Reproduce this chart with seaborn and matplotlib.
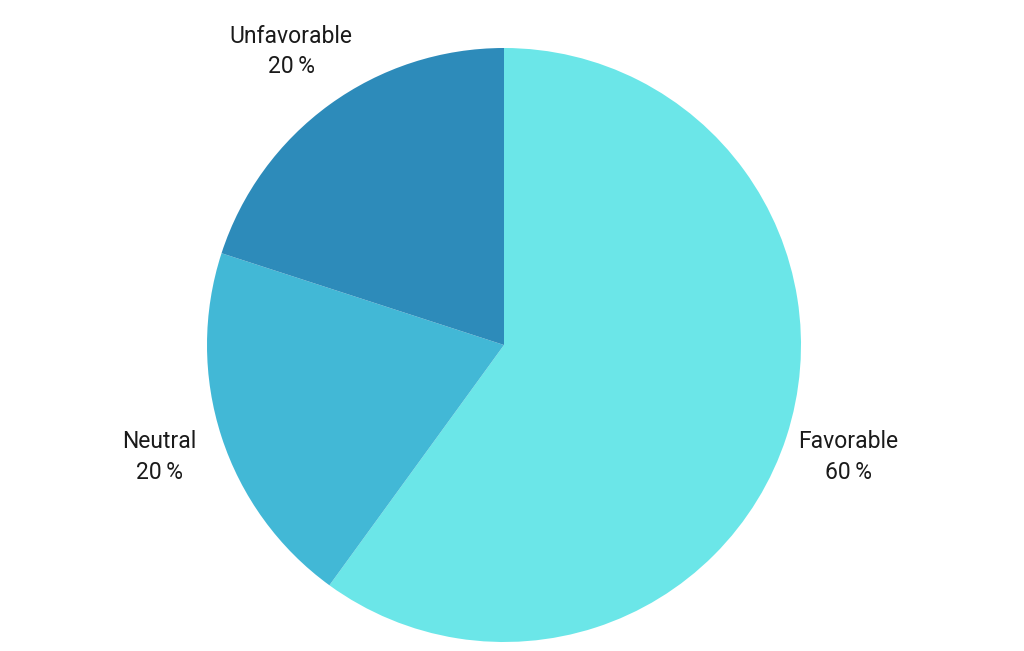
import matplotlib
matplotlib.use("Agg")
import matplotlib.pyplot as plt
import seaborn as sns

categories = ["Favorable", "Neutral", "Unfavorable"]
shares = [60, 20, 20]
colors = ["#6be6e8", "#42b8d6", "#2d8bba"]

sns.set_theme(style="white")
plt.rcParams['font.family'] = ['Roboto', 'DejaVu Sans']

fig = plt.figure(figsize=(10.24, 6.51), dpi=100)
ax = fig.add_axes([207 / 1024, 9 / 651, 594 / 1024, 594 / 651])

labels = [f"{c}\n{v}\u2009%" for c, v in zip(categories, shares)]
wedges, texts = ax.pie(shares, labels=labels, colors=colors, startangle=90,
                       counterclock=False, labeldistance=1.22, radius=1,
                       wedgeprops=dict(linewidth=0))
for t in texts:
    t.set_ha("center")
    t.set_va("center")
    t.set_fontsize(16.5)
    t.set_fontweight("normal")
    t.set_color("#1a1a1a")
    t.set_linespacing(1.4)

ax.set_xlim(-1, 1)
ax.set_ylim(-1, 1)
ax.set_aspect("equal")
ax.axis("off")

fig.savefig("out.png", dpi=100)
